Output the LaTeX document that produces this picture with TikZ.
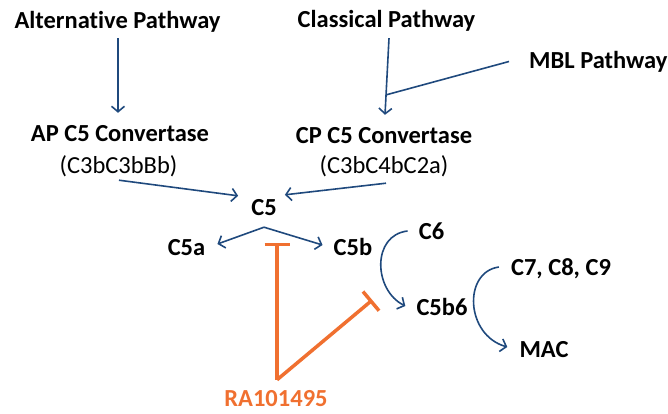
\documentclass[tikz,border=0pt]{standalone}
\usepackage{fontspec}
\setmainfont{Carlito}[Ligatures=CommonOff]
\definecolor{pathblue}{RGB}{31,73,125}
\definecolor{drugorange}{RGB}{240,112,48}
\usetikzlibrary{arrows.meta,positioning,calc}

\begin{document}
\begin{tikzpicture}[
        x=1pt, y=-1pt,
        lbl/.style={font=\fontsize{24.5}{29}\selectfont\bfseries, inner sep=0pt,
                    text height=17.5pt, text depth=4.5pt, anchor=base},
        sub/.style={lbl, font=\fontsize{24.5}{29}\selectfont},
        flow/.style={-{Straight Barb[length=5.5pt,width=13pt]}, line width=1.6pt, pathblue},
        inhib/.style={-{Bar[width=25pt]}, line width=3.5pt, drugorange}
    ]
        \useasboundingbox (0,0) rectangle (668,413);

        \node[lbl] (alt) at (117.5,28.3) {Alternative Pathway};
        \node[lbl] (cls) at (386.5,27.5) {Classical Pathway};
        \node[lbl, anchor=base west] (mbl) at (529,68) {MBL Pathway};

        \node[lbl] (apc)   at (120,141.7) {AP C5 Convertase};
        \node[sub] (apsub) at (118.5,173) {(C3bC3bBb)};
        \node[lbl] (cpc)   at (384,143.3) {CP C5 Convertase};
        \node[sub] (cpsub) at (384,173.3) {(C3bC4bC2a)};

        \node[lbl] (c5)   at (264,215) {C5};
        \node[lbl] (c5a)  at (186.5,255) {C5a};
        \node[lbl] (c5b)  at (353,255) {C5b};
        \node[lbl] (c6)   at (431.5,239) {C6};
        \node[lbl] (c5b6) at (442,315) {C5b6};
        \node[lbl] (c789) at (561,275) {C7, C8, C9};
        \node[lbl] (mac)  at (544,357) {MAC};
        \node[lbl, text depth=0pt, text=drugorange] (ra) at (276,406) {RA101495};

        \draw[flow] ([xshift=0.5pt,yshift=-5.2pt]alt.south) -- ([xshift=-2pt,yshift=11.2pt]apc.north);
        \draw[flow] ([xshift=2.5pt,yshift=-6pt]cls.south) -- coordinate[pos=0.74] (jn)
                    ([xshift=1pt,yshift=10.8pt]cpc.north);
        \draw[flow, -] ([xshift=-20pt]mbl.west) -- (jn);

        \draw[flow] ([xshift=0.5pt,yshift=-2.5pt]apsub.south) -- ([xshift=-13pt,yshift=1.5pt]c5.north west);
        \draw[flow] ([xshift=2pt,yshift=-5.2pt]cpsub.south) -- ([xshift=8pt,yshift=2.5pt]c5.north east);

        \coordinate (sp) at ([yshift=-7.5pt]c5.south);
        \draw[flow] (sp) -- ([xshift=12pt,yshift=4.5pt]c5a.east);
        \draw[flow] (sp) -- ([xshift=-11pt,yshift=3.5pt]c5b.west);

        \draw[flow] ([xshift=-11pt,yshift=1.5pt]c6.west)
            .. controls +(-36,4) and +(-32,-16) .. ([xshift=-11pt,yshift=2.5pt]c5b6.west);
        \draw[flow] ([xshift=-12pt,yshift=1.5pt]c789.west)
            .. controls +(-36,5) and +(-42,-12) .. ([xshift=-12pt,yshift=3.5pt]mac.west);

        \coordinate (rk) at ([xshift=1pt,yshift=8.5pt]ra.north);
        \draw[inhib] (rk) -- ([xshift=13pt,yshift=-23pt]c5.south);
        \draw[inhib] (rk) -- ([xshift=-44pt,yshift=8.5pt]c5b6.west);
    \end{tikzpicture}
\end{document}
